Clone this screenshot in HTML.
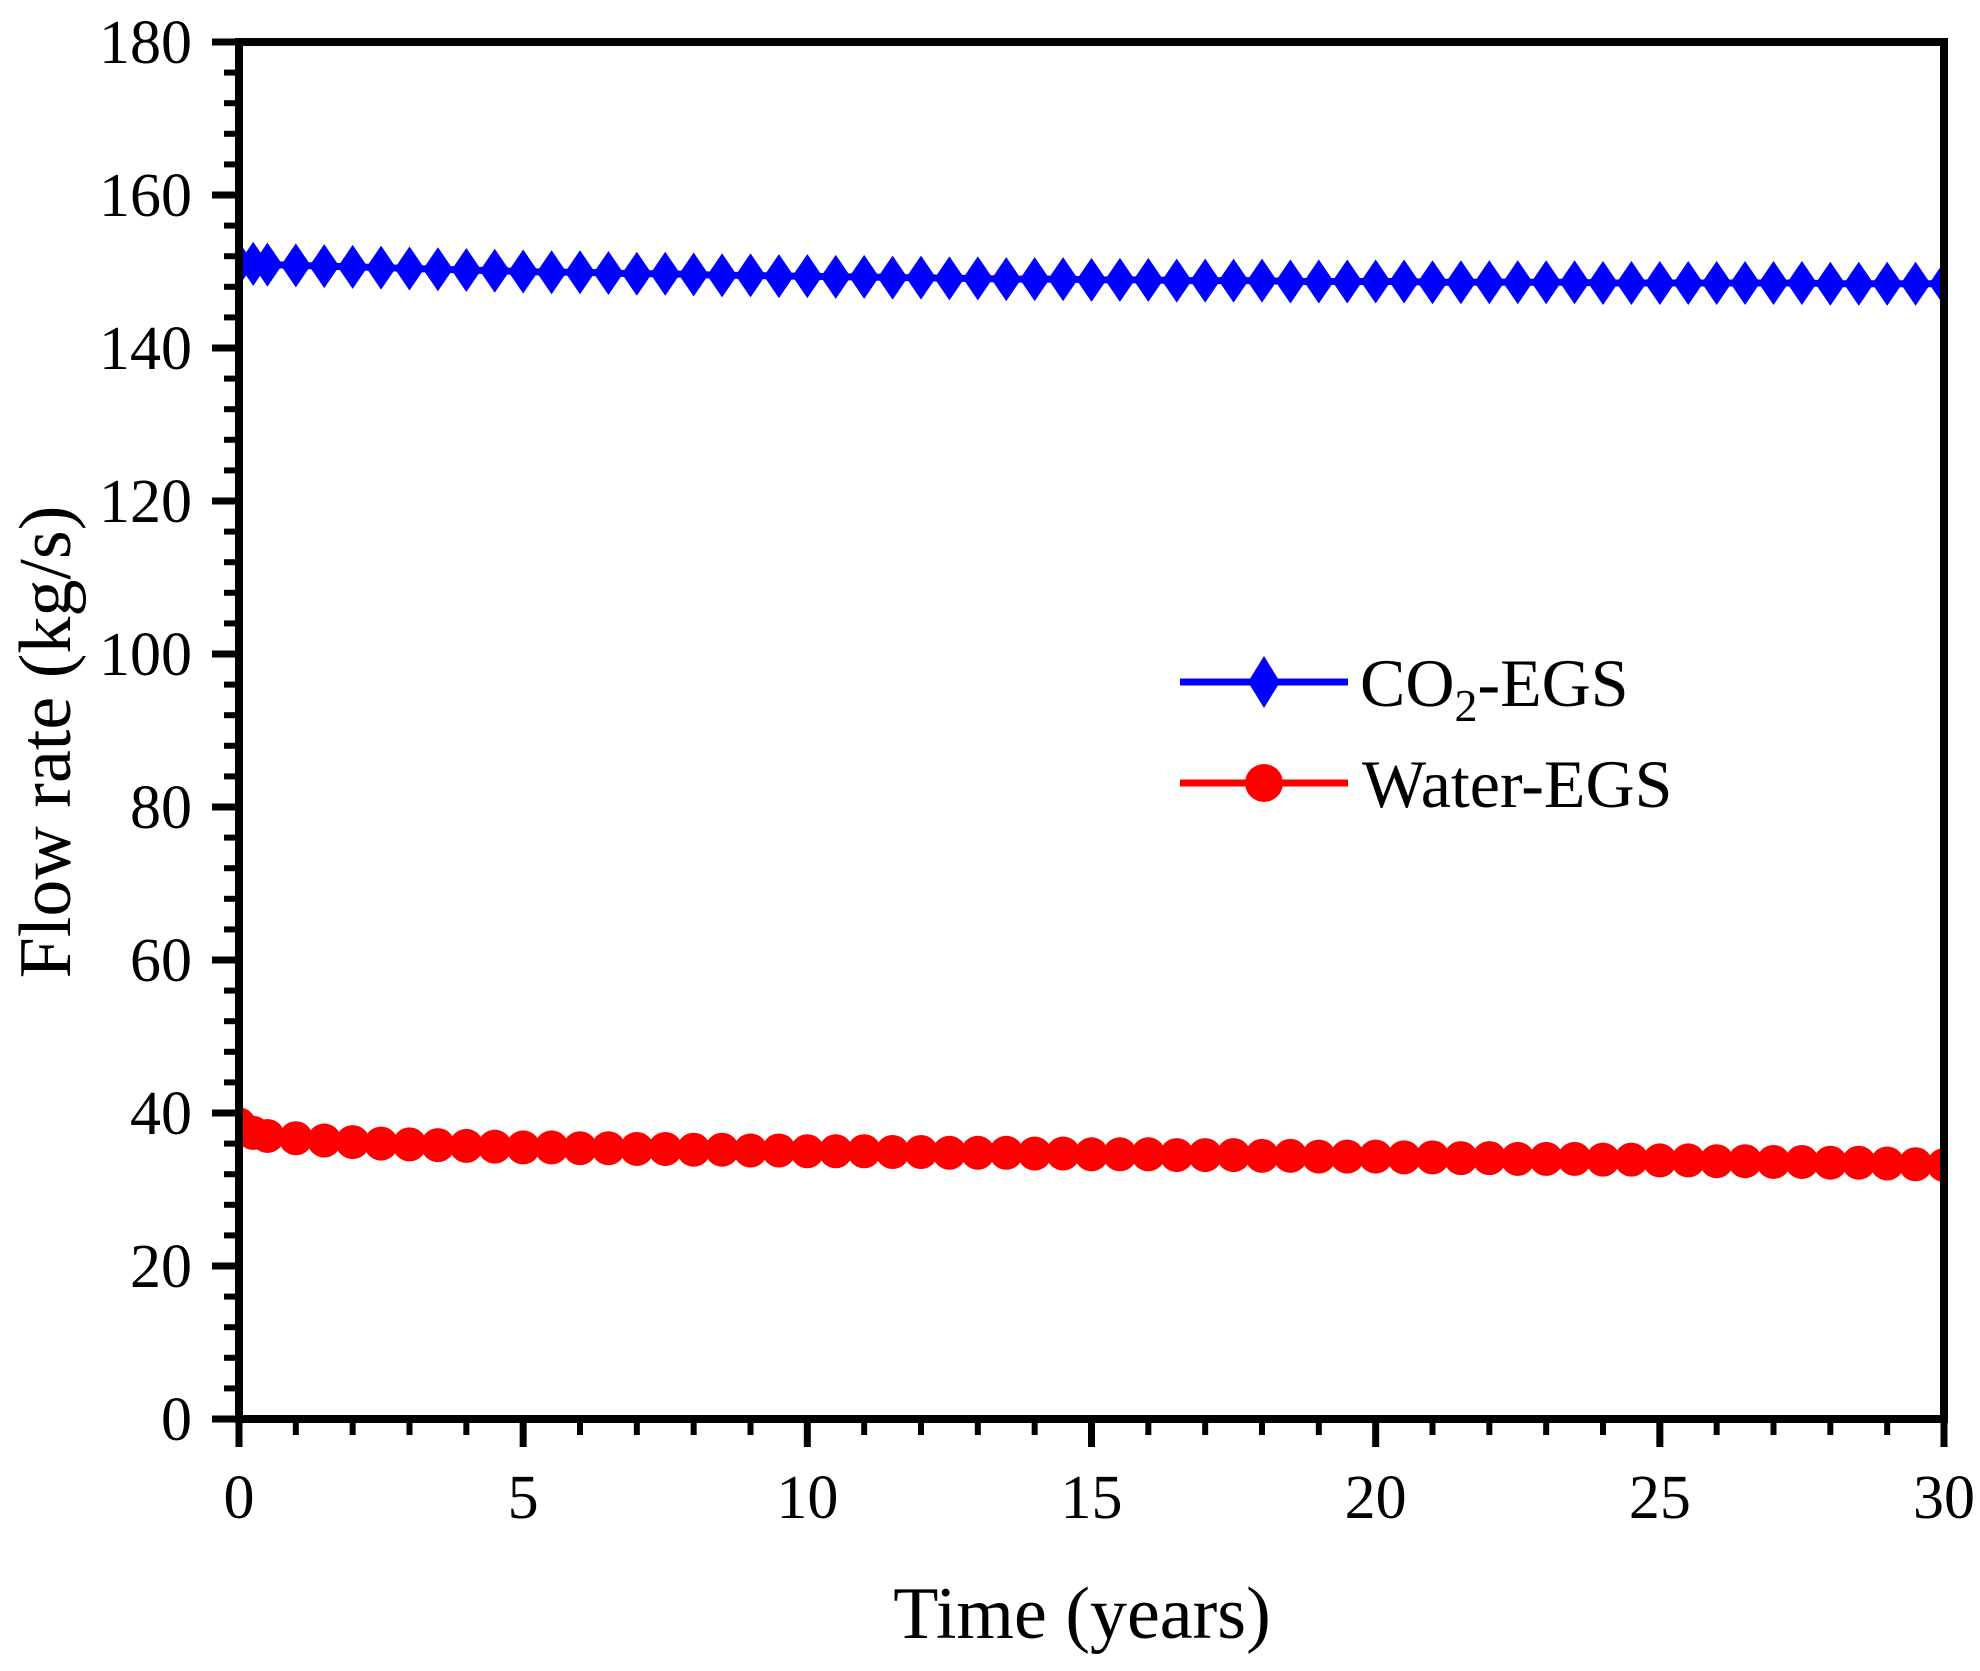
<!DOCTYPE html>
<html><head><meta charset="utf-8"><style>
html,body{margin:0;padding:0;background:#fff}
svg{display:block;font-family:"Liberation Serif",serif}
</style></head><body>
<svg id="chart" width="1980" height="1671" viewBox="0 0 1980 1671" xmlns="http://www.w3.org/2000/svg">
<g id="marks"></g>
<g id="axes"></g>
<text transform="translate(70,742) rotate(-90)" text-anchor="middle" font-size="74">Flow rate (kg/s)</text>
<text x="1082" y="1638" text-anchor="middle" font-size="74">Time (years)</text>
<g>
<g>
<line x1="1180" y1="682" x2="1348" y2="682" stroke="#0000ff" stroke-width="7"/>
<path d="M1264,656 L1280,682 L1264,708 L1248,682 Z" fill="#0000ff"/>
<text x="1360" y="706" font-size="68">CO<tspan font-size="46" dy="15">2</tspan><tspan dy="-15">-EGS</tspan></text>
</g>
<g>
<line x1="1180" y1="783" x2="1348" y2="783" stroke="#ff0000" stroke-width="7"/>
<circle cx="1264" cy="783" r="19" fill="#ff0000"/>
<text x="1362" y="807" font-size="68">Water-EGS</text>
</g>
</g>
</svg>
<script>
const times = [0,0.25,0.5,1,1.5,2,2.5,3,3.5,4,4.5,5,5.5,6,6.5,7,7.5,8,8.5,9,9.5,10,10.5,11,11.5,12,12.5,13,13.5,14,14.5,15,15.5,16,16.5,17,17.5,18,18.5,19,19.5,20,20.5,21,21.5,22,22.5,23,23.5,24,24.5,25,25.5,26,26.5,27,27.5,28,28.5,29,29.5,30];
const co2Values = [151.0,151.0,150.9,150.8,150.7,150.6,150.5,150.4,150.3,150.2,150.1,150.0,149.9,149.9,149.8,149.7,149.7,149.6,149.5,149.5,149.4,149.4,149.3,149.3,149.2,149.2,149.1,149.1,149.0,149.0,149.0,148.9,148.9,148.9,148.8,148.8,148.8,148.8,148.7,148.7,148.7,148.7,148.7,148.6,148.6,148.6,148.6,148.6,148.6,148.5,148.5,148.5,148.5,148.5,148.5,148.5,148.5,148.4,148.4,148.4,148.4,148.4];
const waterValues = [38.5,37.4,37.0,36.7,36.4,36.2,36.0,35.9,35.8,35.7,35.6,35.5,35.5,35.4,35.4,35.3,35.3,35.2,35.2,35.1,35.1,35.0,35.0,35.0,34.9,34.9,34.8,34.8,34.8,34.7,34.7,34.6,34.6,34.6,34.5,34.5,34.5,34.4,34.4,34.3,34.3,34.3,34.2,34.2,34.1,34.1,34.0,34.0,34.0,33.9,33.9,33.8,33.8,33.7,33.7,33.6,33.6,33.5,33.5,33.4,33.3,33.2];
const xTicks = [0,5,10,15,20,25,30];
const yTicks = [0,20,40,60,80,100,120,140,160,180];

const L=239,R=1944,T=42,B=1419;
const xs = v => L + (v/30)*(R-L);
const ys = v => B - (v/180)*(B-T);
const NS="http://www.w3.org/2000/svg";
function mk(tag, attrs, parent){const e=document.createElementNS(NS,tag);for(const k in attrs)e.setAttribute(k,attrs[k]);parent.appendChild(e);return e;}
const marks=document.getElementById('marks'), axes=document.getElementById('axes');

const gc=mk('g',{},marks);


mk('polyline',{points:times.map((t,i)=>xs(t)+','+ys(co2Values[i])).join(' '),fill:'none',stroke:'#0000ff','stroke-width':7},gc);
times.forEach((t,i)=>{const x=xs(t),y=ys(co2Values[i]);
 const p=mk('path',{d:`M${x},${y-22} L${x+15},${y} L${x},${y+22} L${x-15},${y} Z`,fill:'#0000ff'},gc);
 
 });
const gw=mk('g',{},marks);


mk('polyline',{points:times.map((t,i)=>xs(t)+','+ys(waterValues[i])).join(' '),fill:'none',stroke:'#ff0000','stroke-width':7},gw);
times.forEach((t,i)=>{
 const c=mk('circle',{cx:xs(t),cy:ys(waterValues[i]),r:17,fill:'#ff0000'},gw);
 
 });

mk('rect',{x:R+4,y:0,width:60,height:1671,fill:'#fff'},marks);
mk('rect',{x:0,y:0,width:L-4,height:1400,fill:'#fff'},marks);

const fr=mk('rect',{x:L,y:T,width:R-L,height:B-T,fill:'none',stroke:'#000','stroke-width':8},axes);


for(let v=0;v<=30;v++){const major=v%5===0;mk('line',{x1:xs(v),y1:B,x2:xs(v),y2:B+(major?28:16),stroke:'#000','stroke-width':major?7:6},axes);}
xTicks.forEach(v=>{const t=mk('text',{x:xs(v),y:1518,'text-anchor':'middle','font-size':62},axes);t.textContent=v;
 
 });
for(let v=0;v<=180;v+=4){const major=v%20===0;mk('line',{x1:L,y1:ys(v),x2:L-(major?27:15),y2:ys(v),stroke:'#000','stroke-width':major?7:6},axes);}
yTicks.forEach(v=>{const t=mk('text',{x:192,y:ys(v)+21,'text-anchor':'end','font-size':62},axes);t.textContent=v;
 
 });
</script>
</body></html>
